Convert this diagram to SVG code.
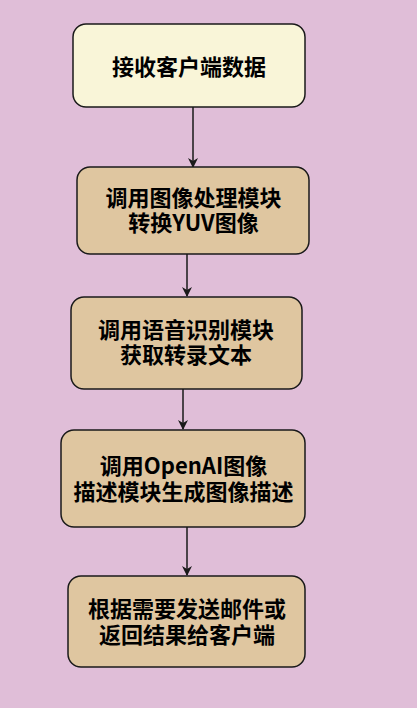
<svg xmlns="http://www.w3.org/2000/svg" width="417" height="708" viewBox="0 0 417 708">
<defs>
<style>
.n rect{stroke:#1a1a1a;stroke-width:1.5}
.a{fill:#f9f5d8}
.b{fill:#dfc6a0}
text{font-family:"Noto Sans CJK SC","Liberation Sans",sans-serif;font-weight:bold;font-size:22px;fill:#000;text-anchor:middle}
.c line{stroke:#1a1a1a;stroke-width:1.5}
</style>
<marker id="ar" viewBox="0 0 10 10" refX="9" refY="5" markerWidth="10" markerHeight="10" markerUnits="userSpaceOnUse" orient="auto">
<path d="M0,0 L10,5 L0,10 L3,5 Z" fill="#1a1a1a"/>
</marker>
</defs>
<rect width="417" height="708" fill="#e0bed8"/>
<g class="c">
<line x1="193" y1="107" x2="193" y2="167" marker-end="url(#ar)"/>
<line x1="187" y1="254" x2="187" y2="296" marker-end="url(#ar)"/>
<line x1="183" y1="389" x2="183" y2="429" marker-end="url(#ar)"/>
<line x1="187" y1="527" x2="187" y2="575" marker-end="url(#ar)"/>
</g>
<g id="n1" class="n"><rect class="a" x="73" y="24" width="232" height="83" rx="13"/><text x="189" y="75">接收客户端数据</text></g>
<g id="n2" class="n"><rect class="b" x="77" y="167" width="232" height="87" rx="13"/><text x="193.5" y="206">调用图像处理模块</text><text x="193.5" y="231">转换YUV图像</text></g>
<g id="n3" class="n"><rect class="b" x="71" y="297" width="231" height="92" rx="13"/><text x="186" y="338">调用语音识别模块</text><text x="186" y="363">获取转录文本</text></g>
<g id="n4" class="n"><rect class="b" x="61" y="430" width="244" height="97" rx="13"/><text x="183.5" y="474">调用OpenAI图像</text><text x="183.5" y="500">描述模块生成图像描述</text></g>
<g id="n5" class="n"><rect class="b" x="68" y="576" width="237" height="91" rx="13"/><text x="187" y="617">根据需要发送邮件或</text><text x="187" y="643">返回结果给客户端</text></g>
</svg>
